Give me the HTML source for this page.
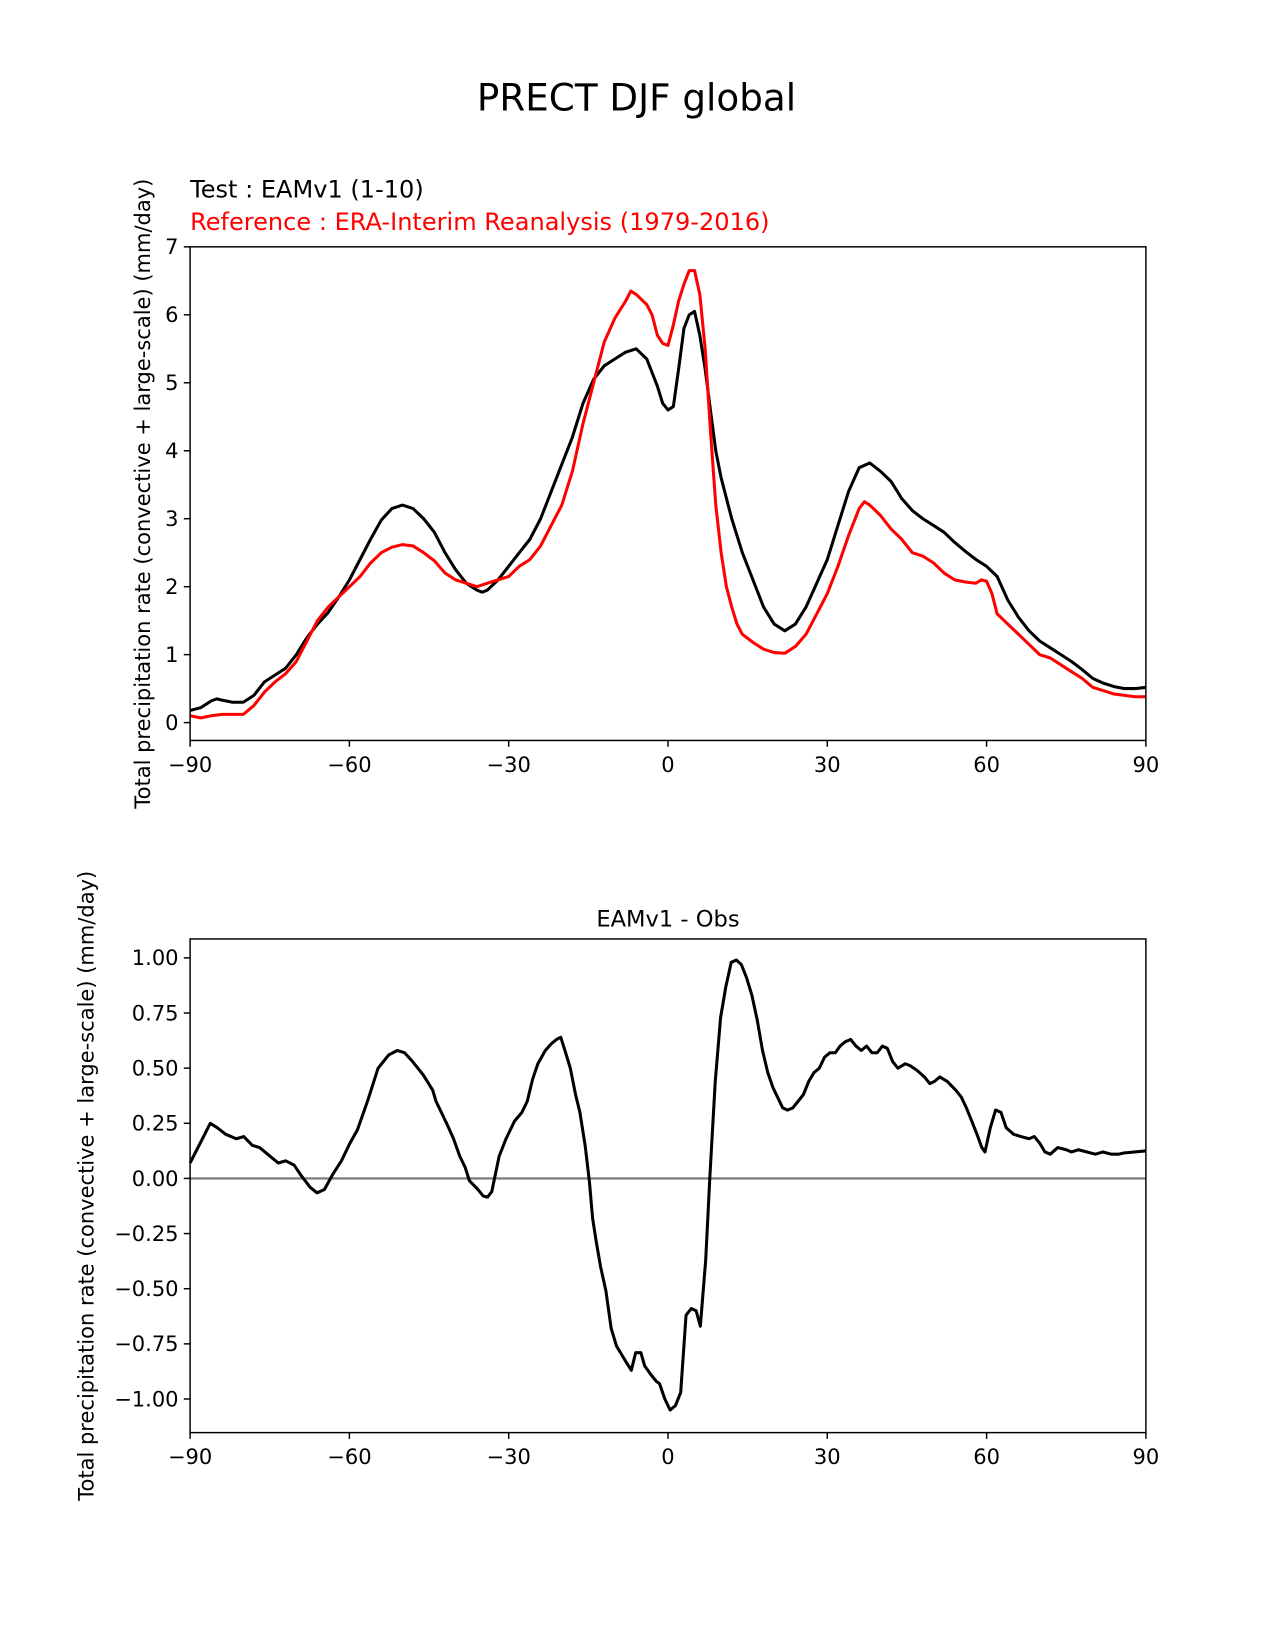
<!DOCTYPE html>
<html><head><meta charset="utf-8"><style>
html,body{margin:0;padding:0;background:#fff;}
svg{display:block;font-family:"DejaVu Sans","Liberation Sans",sans-serif;}
</style></head><body>
<svg id="fig" width="1275" height="1650" viewBox="0 0 1275 1650">
<g transform="scale(1.0503)">
<text x="606" y="105" font-size="35.5" text-anchor="middle">PRECT DJF global</text>
<text x="181" y="188" font-size="22.9">Test : EAMv1 (1-10)</text>
<text x="181" y="219" font-size="22.9" fill="#ff0000">Reference : ERA-Interim Reanalysis (1979-2016)</text>
<text x="636" y="882" font-size="21.5" text-anchor="middle">EAMv1 - Obs</text>
<g id="top"></g>
<g id="bot"></g>
</g>
</svg>
<script>
const latTest=[-90,-88,-86,-85,-84,-82,-80,-78,-76,-74,-72,-70,-68,-66,-64,-62,-60,-58,-56,-54,-52,-50,-48,-46,-44,-42,-40,-38,-36,-35,-34,-32,-30,-28,-26,-24,-22,-20,-18,-16,-14,-12,-10,-8,-6,-4,-2,-1,0,1,2,3,4,5,6,7,8,9,10,12,14,16,18,20,22,24,26,28,30,32,34,36,38,40,42,44,46,48,50,52,54,56,58,60,62,64,66,68,70,72,74,76,78,80,82,84,86,88,90];
const valTest=[0.18,0.22,0.32,0.35,0.33,0.3,0.3,0.4,0.6,0.7,0.8,1.0,1.25,1.45,1.62,1.85,2.1,2.4,2.7,2.98,3.15,3.2,3.15,3.0,2.8,2.5,2.25,2.05,1.95,1.92,1.95,2.1,2.3,2.5,2.7,3.0,3.4,3.8,4.2,4.7,5.05,5.25,5.35,5.45,5.5,5.35,4.95,4.7,4.6,4.65,5.2,5.8,6.0,6.05,5.7,5.2,4.6,4.0,3.6,3.0,2.5,2.1,1.7,1.45,1.35,1.45,1.7,2.05,2.4,2.9,3.4,3.75,3.82,3.7,3.55,3.3,3.12,3.0,2.9,2.8,2.65,2.52,2.4,2.3,2.15,1.8,1.55,1.35,1.2,1.1,1.0,0.9,0.78,0.65,0.58,0.53,0.5,0.5,0.52];
const latRef=[-90,-88,-86,-84,-80,-78,-76,-74,-72,-70,-68,-66,-64,-62,-60,-58,-56,-54,-52,-50,-48,-46,-44,-42,-40,-38,-36,-34,-32,-30,-28,-26,-24,-22,-20,-18,-16,-14,-12,-10,-8,-7,-6,-4,-3,-2,-1,0,1,2,3,4,5,6,7,8,9,10,11,12,13,14,16,18,20,22,24,26,28,30,32,34,36,37,38,40,42,44,46,48,50,52,54,56,58,59,60,61,62,64,66,68,70,72,74,76,78,80,82,84,86,88,90];
const valRef=[0.1,0.07,0.1,0.12,0.12,0.25,0.45,0.6,0.72,0.9,1.2,1.5,1.7,1.85,2.0,2.15,2.35,2.5,2.58,2.62,2.6,2.5,2.38,2.2,2.1,2.05,2.0,2.05,2.1,2.15,2.3,2.4,2.6,2.9,3.2,3.7,4.4,5.0,5.6,5.95,6.2,6.35,6.3,6.15,6.0,5.7,5.58,5.55,5.85,6.2,6.45,6.65,6.65,6.3,5.5,4.3,3.2,2.5,2.0,1.7,1.45,1.3,1.18,1.08,1.03,1.02,1.12,1.3,1.6,1.9,2.3,2.75,3.15,3.25,3.2,3.05,2.85,2.7,2.5,2.45,2.35,2.2,2.1,2.07,2.05,2.1,2.08,1.9,1.6,1.45,1.3,1.15,1.0,0.95,0.85,0.75,0.65,0.52,0.47,0.42,0.4,0.38,0.38];
const latDiff=[-90,-86.2,-84.9,-83.3,-81.3,-79.9,-78.3,-76.9,-75.4,-73.4,-72.0,-70.4,-69.0,-67.4,-66.1,-64.7,-63.1,-61.5,-59.9,-58.5,-56.6,-54.6,-52.6,-51.0,-49.6,-48.1,-46.1,-44.3,-43.7,-41.7,-40.4,-39.2,-38.2,-37.4,-35.8,-34.8,-34.0,-33.2,-31.8,-30.5,-28.9,-27.5,-26.5,-25.5,-24.5,-23.1,-22.0,-21.0,-20.2,-19.4,-18.4,-17.4,-16.6,-15.6,-14.8,-14.2,-13.5,-12.7,-11.7,-10.7,-9.7,-8.7,-7.7,-6.9,-6.1,-5.1,-4.4,-3.2,-2.2,-1.6,-0.6,0.4,1.4,2.4,3.4,4.4,5.3,6.1,7.1,7.9,8.9,9.9,10.9,11.9,12.9,13.8,14.8,15.8,16.8,17.8,18.8,19.8,20.8,21.6,22.5,23.5,24.5,25.5,26.5,27.5,28.5,29.5,30.5,31.5,32.4,33.4,34.4,35.4,36.4,37.4,38.4,39.4,40.4,41.3,42.3,43.3,44.7,45.7,46.9,48.3,49.3,50.2,51.2,52.6,54.2,55.2,56.2,57.2,58.2,59.1,59.7,60.7,61.7,62.7,63.7,65.1,66.5,68.0,69.0,70.0,71.0,72.0,73.4,75.0,76.0,77.3,78.9,80.5,81.9,83.5,84.9,85.8,87.8,90];
const valDiff=[0.07,0.25,0.23,0.2,0.18,0.19,0.15,0.14,0.11,0.07,0.08,0.06,0.01,-0.04,-0.065,-0.05,0.02,0.08,0.16,0.22,0.35,0.5,0.56,0.58,0.57,0.53,0.47,0.40,0.35,0.25,0.18,0.1,0.05,-0.01,-0.05,-0.08,-0.085,-0.06,0.1,0.18,0.26,0.30,0.35,0.45,0.52,0.58,0.61,0.63,0.64,0.58,0.5,0.38,0.3,0.15,-0.015,-0.18,-0.29,-0.4,-0.51,-0.68,-0.76,-0.8,-0.84,-0.87,-0.79,-0.79,-0.85,-0.89,-0.92,-0.93,-1.0,-1.05,-1.03,-0.97,-0.62,-0.59,-0.6,-0.67,-0.37,0.01,0.44,0.73,0.87,0.98,0.99,0.97,0.91,0.83,0.72,0.58,0.48,0.41,0.36,0.32,0.31,0.32,0.35,0.38,0.44,0.48,0.5,0.55,0.57,0.57,0.6,0.62,0.63,0.6,0.58,0.6,0.57,0.57,0.6,0.59,0.53,0.5,0.52,0.51,0.49,0.46,0.43,0.44,0.46,0.44,0.40,0.37,0.32,0.26,0.2,0.14,0.12,0.23,0.31,0.30,0.23,0.2,0.19,0.18,0.19,0.16,0.12,0.11,0.14,0.13,0.12,0.13,0.12,0.11,0.12,0.11,0.11,0.115,0.12,0.125];
const xTicks=[-90,-60,-30,0,30,60,90];
const xTickLabels=["\u221290","\u221260","\u221230","0","30","60","90"];
const yTicksTop=[0,1,2,3,4,5,6,7];
const yTicksBot=[-1,-0.75,-0.5,-0.25,0,0.25,0.5,0.75,1];
const yTickLabelsBot=["\u22121.00","\u22120.75","\u22120.50","\u22120.25","0.00","0.25","0.50","0.75","1.00"];

const NS="http://www.w3.org/2000/svg";
function mk(parent,tag,attrs,text){const e=document.createElementNS(NS,tag);for(const k in attrs)e.setAttribute(k,attrs[k]);if(text!==undefined)e.textContent=text;parent.appendChild(e);return e;}

function axes(g,box,ymin,ymax,yt,ytl,ylabelX){
  const X=v=>box.x0+(v+90)/180*(box.x1-box.x0);
  const Y=v=>box.y1-(v-ymin)/(ymax-ymin)*(box.y1-box.y0);
  xTicks.forEach((t,i)=>{
    const l=mk(g,'line',{x1:X(t),x2:X(t),y1:box.y1,y2:box.y1+6,stroke:'#000','stroke-width':1.4});
    
    
    const tx=mk(g,'text',{x:X(t),y:box.y1+30,'font-size':20,'text-anchor':'middle'},xTickLabels[i]);
    
    
  });
  yt.forEach((t,i)=>{
    const l=mk(g,'line',{x1:box.x0-6,x2:box.x0,y1:Y(t),y2:Y(t),stroke:'#000','stroke-width':1.4});
    
    
    const tx=mk(g,'text',{x:box.x0-11,y:Y(t)+7,'font-size':20,'text-anchor':'end'},ytl[i]);
    
    
  });
  const yc=(box.y0+box.y1)/2;
  const yl=mk(g,'text',{x:ylabelX,y:yc,'font-size':20,'text-anchor':'middle',transform:`rotate(-90 ${ylabelX} ${yc})`},'Total precipitation rate (convective + large-scale) (mm/day)');
  
  
  return {X,Y};
}
function line(g,X,Y,lats,vals,color,name,w){
  const d=lats.map((la,i)=>(i?'L':'M')+X(la).toFixed(1)+' '+Y(vals[i]).toFixed(1)).join(' ');
  const p=mk(g,'path',{d:d,fill:'none',stroke:color,'stroke-width':w,'stroke-linejoin':'round'});
  
  
}
function frame(g,box){
  const r=mk(g,'rect',{x:box.x0,y:box.y0,width:box.x1-box.x0,height:box.y1-box.y0,fill:'none',stroke:'#000','stroke-width':1.4});
  
  
}
const gt=document.getElementById('top');
const bt={x0:181,x1:1091,y0:235,y1:705};
const a1=axes(gt,bt,(688-705)/64.71,7+(688-235)/64.71-7,yTicksTop,yTicksTop.map(String),143);
line(gt,a1.X,a1.Y,latTest,valTest,'#000','test-series-line',2.9);
line(gt,a1.X,a1.Y,latRef,valRef,'#ff0000','reference-series-line',2.9);
frame(gt,bt);
const gb=document.getElementById('bot');
const bb={x0:181,x1:1091,y0:894,y1:1364};
const a2=axes(gb,bb,(1122-1364)/210,(1122-894)/210,yTicksBot,yTickLabelsBot,89);
const z=mk(gb,'line',{x1:bb.x0,x2:bb.x1,y1:a2.Y(0),y2:a2.Y(0),stroke:'#808080','stroke-width':2.2});


line(gb,a2.X,a2.Y,latDiff,valDiff,'#000','difference-series-line',2.9);
frame(gb,bb);
</script>
</body></html>
